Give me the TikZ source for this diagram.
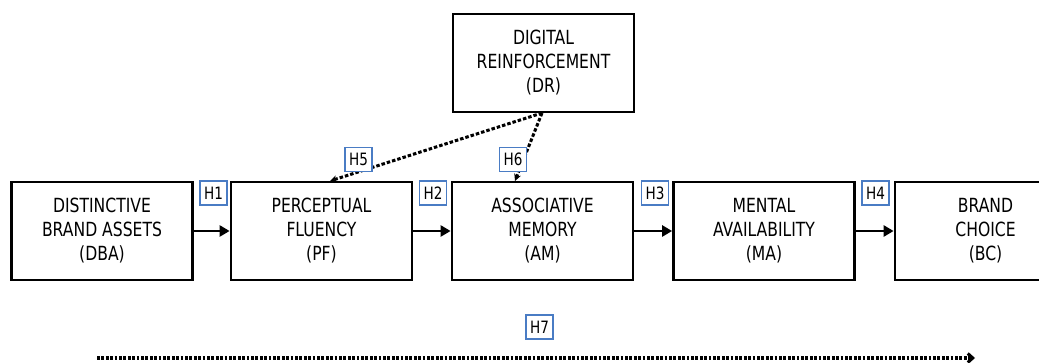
\documentclass[tikz,border=0pt]{standalone}
\usepackage{fontspec}
\setmainfont{DejaVu Sans}[FakeStretch=0.8]
\usetikzlibrary{arrows.meta}
\definecolor{hblue}{HTML}{4A7CC4}
\tikzset{
  cbox/.style={draw=black, line width=2.8pt, minimum width=181pt, minimum height=98pt, align=center, inner sep=0pt, font=\fontsize{19.5}{24}\selectfont, text=black},
  hlab/.style={draw=hblue, line width=1.8pt, fill=white, minimum width=27pt, minimum height=24pt, inner sep=0pt, font=\fontsize{17}{19}\selectfont, text=black},
  flow/.style={line width=2.8pt, -{Triangle[length=10pt,width=11pt]}},
  dotline/.style={line width=3pt, dash pattern=on 3.5pt off 2pt, -{Stealth[length=7pt,width=7pt]}},
  dotline2/.style={line width=3pt, dash pattern=on 2.8pt off 1.6pt, -{Straight Barb[length=5pt,width=9pt]}}
}
\begin{document}
\begin{tikzpicture}[x=1pt,y=-1pt]
\useasboundingbox (0,0) rectangle (1039,363);
\node[cbox] (dba) at (102,231) {DISTINCTIVE\\BRAND ASSETS\\(DBA)};
\node[cbox] (pf) at (321.5,231) {PERCEPTUAL\\FLUENCY\\(PF)};
\node[cbox] (am) at (542.5,231) {ASSOCIATIVE\\MEMORY\\(AM)};
\node[cbox] (ma) at (764,231) {MENTAL\\AVAILABILITY\\(MA)};
\node[cbox] (bc) at (985.5,231) {BRAND\\CHOICE\\(BC)};
\node[cbox] (dr) at (543.5,63) {DIGITAL\\REINFORCEMENT\\(DR)};
\draw[flow] (dba) -- (pf);
\draw[flow] (pf) -- (am);
\draw[flow] (am) -- (ma);
\draw[flow] (ma) -- (bc);
\coordinate (drb) at (542,113);
\coordinate (pft) at (330,181);
\coordinate (amt) at (515,181);
\draw[dotline] (drb) -- (pft);
\draw[dotline] (drb) -- (amt);
\coordinate (h7s) at (97,358);
\coordinate (h7e) at (975,358);
\draw[dotline2] (h7s) -- (h7e);
\node[hlab] (h1) at (213.5,193) {H1};
\node[hlab] (h2) at (433,193) {H2};
\node[hlab] (h3) at (655,193) {H3};
\node[hlab] (h4) at (875.5,193) {H4};
\node[hlab] (h5) at (358.5,159.5) {H5};
\node[hlab] (h6) at (513,159.5) {H6};
\node[hlab] (h7) at (539.5,327) {H7};
\end{tikzpicture}
\end{document}
